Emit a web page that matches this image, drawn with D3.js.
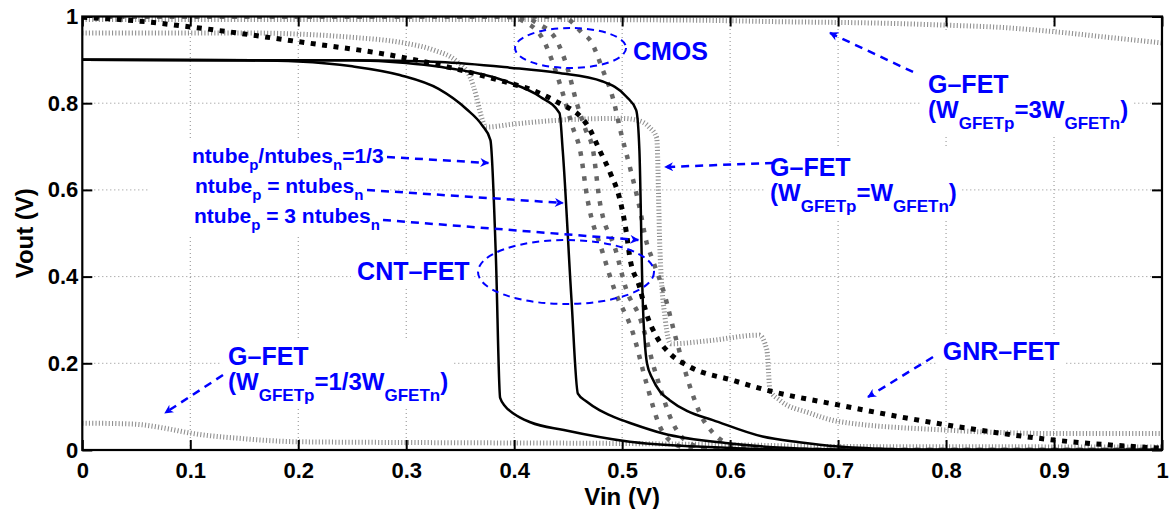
<!DOCTYPE html>
<html>
<head>
<meta charset="utf-8">
<script src="https://cdn.jsdelivr.net/npm/d3@7"></script>
<style>
  body { margin: 0; background: #fff; }
  svg { display: block; }
  text { font-family: "Liberation Sans", Arial, Helvetica, sans-serif; font-weight: bold; white-space: pre; }
</style>
</head>
<body>
<svg id="chart" width="1171" height="509"></svg>
<script>
// tick values
const vinTicks = [0, 0.1, 0.2, 0.3, 0.4, 0.5, 0.6, 0.7, 0.8, 0.9, 1];
const voutTicks = [0, 0.2, 0.4, 0.6, 0.8, 1];

// CNT-FET inverters  [Vin, Vout]
const cntOneThird = [[0,0.9],[0.15,0.899],[0.2,0.896],[0.25,0.885],[0.294,0.865],[0.33,0.833],[0.356,0.786],[0.37,0.75],[0.378,0.715],[0.383,0.45],[0.387,0.12],[0.392,0.1],[0.4,0.083],[0.415,0.064],[0.446,0.046],[0.507,0.019],[0.569,0.008],[0.62,0.003],[0.68,0],[1,0]];
const cntEqual = [[0,0.9],[0.25,0.899],[0.3,0.893],[0.331,0.884],[0.393,0.85],[0.424,0.815],[0.442,0.777],[0.445,0.69],[0.453,0.35],[0.459,0.13],[0.467,0.112],[0.479,0.092],[0.4915,0.077],[0.51,0.06],[0.538,0.038],[0.6,0.015],[0.65,0.005],[0.7,0.001],[1,0]];
const cntThree = [[0,0.9],[0.25,0.899],[0.331,0.895],[0.396,0.882],[0.44,0.87],[0.482,0.85],[0.504,0.815],[0.513,0.784],[0.516,0.69],[0.519,0.35],[0.523,0.2],[0.528,0.165],[0.535,0.135],[0.544,0.115],[0.56,0.09],[0.584,0.069],[0.63,0.031],[0.664,0.018],[0.7,0.008],[0.75,0.002],[0.8,0],[1,0]];

// GNR-FET
const gnrFet = [[0,0.998],[0.05,0.99],[0.1,0.976],[0.2,0.942],[0.294,0.907],[0.356,0.873],[0.396,0.846],[0.417,0.83],[0.445,0.796],[0.454,0.784],[0.463,0.765],[0.47,0.74],[0.479,0.692],[0.489,0.639],[0.498,0.577],[0.504,0.5],[0.507,0.446],[0.516,0.377],[0.5225,0.315],[0.532,0.261],[0.544,0.223],[0.5625,0.192],[0.602,0.161],[0.634,0.138],[0.7,0.104],[0.8,0.058],[0.9,0.023],[1,0.004]];

// CMOS
const cmos1 = [[0,1],[0.38,1],[0.4,0.998],[0.408,0.99],[0.427,0.946],[0.436,0.892],[0.445,0.823],[0.454,0.746],[0.461,0.692],[0.468,0.577],[0.482,0.455],[0.493,0.369],[0.51,0.27],[0.5225,0.154],[0.535,0.054],[0.545,0.02],[0.56,0.005],[0.6,0],[1,0]];
const cmos2 = [[0,1],[0.39,1],[0.41,0.998],[0.421,0.985],[0.439,0.946],[0.449,0.884],[0.458,0.8],[0.466,0.74],[0.473,0.692],[0.479,0.577],[0.494,0.461],[0.504,0.369],[0.516,0.308],[0.532,0.169],[0.547,0.062],[0.5625,0.015],[0.58,0.003],[0.62,0],[1,0]];
const cmos3 = [[0,1],[0.43,1],[0.445,0.998],[0.451,0.992],[0.463,0.962],[0.471,0.943],[0.482,0.877],[0.4915,0.811],[0.499,0.731],[0.507,0.654],[0.516,0.561],[0.5225,0.48],[0.528,0.44],[0.538,0.369],[0.551,0.246],[0.565,0.13],[0.572,0.085],[0.584,0.04],[0.6,0.012],[0.62,0.002],[0.65,0],[1,0]];

// G-FET
const gfetThree = [[0,0.993],[0.2,0.993],[0.4,0.993],[0.55,0.992],[0.646,0.988],[0.75,0.984],[0.8,0.98],[0.85,0.975],[0.9,0.965],[0.95,0.952],[1,0.939]];
const gfetEqual = [[0,0.962],[0.15,0.962],[0.25,0.952],[0.3,0.938],[0.325,0.923],[0.347,0.896],[0.359,0.861],[0.365,0.815],[0.368,0.784],[0.374,0.745],[0.4,0.752],[0.45,0.762],[0.5,0.765],[0.515,0.76],[0.525,0.745],[0.532,0.72],[0.535,0.461],[0.54,0.3],[0.545,0.245],[0.58,0.252],[0.627,0.265],[0.634,0.231],[0.637,0.138],[0.646,0.115],[0.674,0.085],[0.7,0.066],[0.8,0.046],[0.9,0.038],[1,0.038]];
const gfetOneThird = [[0,0.062],[0.046,0.06],[0.077,0.05],[0.1,0.039],[0.15,0.026],[0.2,0.019],[0.324,0.017],[0.5,0.015],[0.6,0.012],[0.7,0.008],[1,0.007]];

const blue = "#0000ff";
const svg = d3.select("#chart");
const margin = { top: 16.5, right: 9, bottom: 59, left: 82.3 };
const W = 1171, H = 509;

const x = d3.scaleLinear().domain([0, 1]).range([margin.left, W - margin.right]);
const y = d3.scaleLinear().domain([0, 1]).range([H - margin.bottom, margin.top]);

// grid
const grid = svg.append("g");
grid.selectAll(".gx").data(vinTicks.slice(1, -1)).enter().append("line")
  .attr("x1", d => x(d)).attr("x2", d => x(d)).attr("y1", y(0)).attr("y2", y(1));
grid.selectAll(".gy").data(voutTicks.slice(1, -1)).enter().append("line")
  .attr("y1", d => y(d)).attr("y2", d => y(d)).attr("x1", x(0)).attr("x2", x(1));
grid.selectAll("line").attr("stroke", "#8c8c8c").attr("stroke-width", 1).attr("stroke-dasharray", "1,3");

const boxLayer = svg.append("g");
const curveLayer = svg.append("g");
const textLayer = svg.append("g");

// curves
const line = d3.line().x(d => x(d[0])).y(d => y(d[1])).curve(d3.curveMonotoneX);
svg.append("clipPath").attr("id", "clip").append("rect")
  .attr("x", x(0)).attr("y", y(1)).attr("width", x(1) - x(0)).attr("height", y(0) - y(1));
curveLayer.attr("clip-path", "url(#clip)");

function drawCurve(data, color, width, dash) {
  curveLayer.append("path").datum(data).attr("d", line)
    .attr("fill", "none").attr("stroke", color).attr("stroke-width", width)
    .attr("stroke-dasharray", dash);
}
[gfetThree, gfetEqual, gfetOneThird].forEach(s => drawCurve(s, "#909090", 5, "1.1,2.2"));
[cmos1, cmos2, cmos3].forEach(s => drawCurve(s, "#666", 4.5, "4.5,8"));
drawCurve(gnrFet, "#000", 5, "5,6.5");
[cntOneThird, cntEqual, cntThree].forEach(s => drawCurve(s, "#000", 2.5, null));

// axes
const xAxis = svg.append("g").attr("transform", `translate(0,${y(0)})`)
  .call(d3.axisBottom(x).tickValues(vinTicks).tickFormat(d3.format("")).tickSize(-10).tickSizeOuter(0).tickPadding(12.5));
const yAxis = svg.append("g").attr("transform", `translate(${x(0)},0)`)
  .call(d3.axisLeft(y).tickValues(voutTicks).tickFormat(d3.format("")).tickSize(-10).tickSizeOuter(0).tickPadding(4));
const xTop = svg.append("g").attr("transform", `translate(0,${y(1)})`)
  .call(d3.axisTop(x).tickValues(vinTicks).tickFormat("").tickSize(-10).tickSizeOuter(0));
const yRight = svg.append("g").attr("transform", `translate(${x(1)},0)`)
  .call(d3.axisRight(y).tickValues(voutTicks).tickFormat("").tickSize(-10).tickSizeOuter(0));
[xAxis, yAxis, xTop, yRight].forEach(a => {
  a.select(".domain").remove();
  a.selectAll(".tick line").attr("stroke", "#000").attr("stroke-width", 2);
  a.selectAll("text").attr("font-size", 22).attr("fill", "#000")
    .attr("font-family", "Liberation Sans, Arial, sans-serif").attr("font-weight", "bold");
});
svg.append("rect").attr("x", x(0)).attr("y", y(1)).attr("width", x(1) - x(0)).attr("height", y(0) - y(1))
  .attr("fill", "none").attr("stroke", "#000").attr("stroke-width", 2.2);

svg.append("text").attr("x", (x(0) + x(1)) / 2).attr("y", 505).attr("text-anchor", "middle")
  .attr("font-size", 24).text("Vin (V)");
svg.append("text").attr("transform", `translate(33,${(y(0) + y(1)) / 2}) rotate(-90)`)
  .attr("text-anchor", "middle").attr("font-size", 24).text("Vout (V)");

// annotations: one text element per block, each line a run of tspans
function labelBlock(lines, pad) {
  const t = textLayer.append("text").attr("fill", blue);
  lines.forEach(l => {
    let inSub = false;
    l.parts.forEach(([s, sub], i) => {
      const ts = t.append("tspan").text(s).attr("font-size", sub ? l.sub : l.size);
      if (i === 0) ts.attr("x", x(l.x)).attr("y", y(l.y));
      else if (sub && !inSub) ts.attr("dy", l.shift);
      else if (!sub && inSub) ts.attr("dy", -l.shift);
      inSub = sub;
    });
  });
  const b = t.node().getBBox();
  boxLayer.append("rect").attr("x", b.x - pad[0]).attr("y", b.y - pad[1])
    .attr("width", b.width + pad[0] + pad[2]).attr("height", b.height + pad[1] + pad[3]).attr("fill", "#fff");
}

const big = 24, bigSub = 17, bigShift = 11;
labelBlock([{ x: 0.51, y: 0.90, parts: [["CMOS", false]], size: 25 }], [4, 3, 4, 3]);
labelBlock([{ x: 0.2545, y: 0.392, parts: [["CNT–FET", false]], size: 25 }], [6, 3, 4, 3]);
labelBlock([{ x: 0.797, y: 0.2076, parts: [["GNR–FET", false]], size: 25 }], [6, 3, 6, 3]);
labelBlock([
  { x: 0.7833, y: 0.8235, parts: [["G–FET", false]], size: 25 },
  { x: 0.7833, y: 0.7659, parts: [["(W", false], ["GFETp", true], ["=3W", false], ["GFETn", true], [")", false]], size: big, sub: bigSub, shift: bigShift }
], [6, 40, 4, 4]);
labelBlock([
  { x: 0.637, y: 0.6321, parts: [["G–FET", false]], size: 25 },
  { x: 0.637, y: 0.5744, parts: [["(W", false], ["GFETp", true], ["=W", false], ["GFETn", true], [")", false]], size: big, sub: bigSub, shift: bigShift }
], [6, 4, 4, 4]);
labelBlock([
  { x: 0.135, y: 0.1961, parts: [["G–FET", false]], size: 25 },
  { x: 0.135, y: 0.1384, parts: [["(W", false], ["GFETp", true], ["=1/3W", false], ["GFETn", true], [")", false]], size: big, sub: bigSub, shift: bigShift }
], [6, 4, 4, 4]);
const nt = 21, ntSub = 15, ntShift = 7;
labelBlock([
  { x: 0.1016, y: 0.662, parts: [["ntube", false], ["p", true], ["/ntubes", false], ["n", true], ["=1/3", false]], size: nt, sub: ntSub, shift: ntShift },
  { x: 0.1044, y: 0.593, parts: [["ntube", false], ["p", true], [" = ntubes", false], ["n", true]], size: nt, sub: ntSub, shift: ntShift },
  { x: 0.1035, y: 0.5236, parts: [["ntube", false], ["p", true], [" = 3 ntubes", false], ["n", true]], size: nt, sub: ntSub, shift: ntShift }
], [44, 3, 4, 3]);

// ellipses
const ellipses = [
  { cx: 0.4522, cy: 0.9273, rx: 0.0514, ry: 0.0461 },
  { cx: 0.448, cy: 0.4106, rx: 0.0815, ry: 0.0738 }
];
textLayer.selectAll("ellipse").data(ellipses).enter().append("ellipse")
  .attr("cx", d => x(d.cx)).attr("cy", d => y(d.cy))
  .attr("rx", d => x(d.rx) - x(0)).attr("ry", d => y(0) - y(d.ry))
  .attr("fill", "none").attr("stroke", blue).attr("stroke-width", 2).attr("stroke-dasharray", "7,5");

// arrows [from, to]
const arrows = [
  [[0.2822, 0.6759], [0.3761, 0.6621]],
  [[0.2637, 0.5998], [0.4452, 0.5698]],
  [[0.2785, 0.5306], [0.515, 0.4844]],
  [[0.7694, 0.872], [0.6925, 0.962]],
  [[0.6398, 0.662], [0.5397, 0.6528]],
  [[0.1303, 0.173], [0.0766, 0.0854]],
  [[0.7879, 0.2145], [0.7277, 0.1223]]
];
svg.append("defs").append("marker").attr("id", "head")
  .attr("viewBox", "0 0 10 10").attr("refX", 9).attr("refY", 5)
  .attr("markerWidth", 10).attr("markerHeight", 9).attr("markerUnits", "userSpaceOnUse")
  .attr("orient", "auto")
  .append("path").attr("d", "M0,0 L10,5 L0,10 L3,5 Z").attr("fill", blue);
textLayer.selectAll(".arrow").data(arrows).enter().append("line")
  .attr("x1", d => x(d[0][0])).attr("y1", d => y(d[0][1]))
  .attr("x2", d => x(d[1][0])).attr("y2", d => y(d[1][1]))
  .attr("stroke", blue).attr("stroke-width", 2.5).attr("stroke-dasharray", "8,6")
  .attr("marker-end", "url(#head)");
</script>
</body>
</html>
